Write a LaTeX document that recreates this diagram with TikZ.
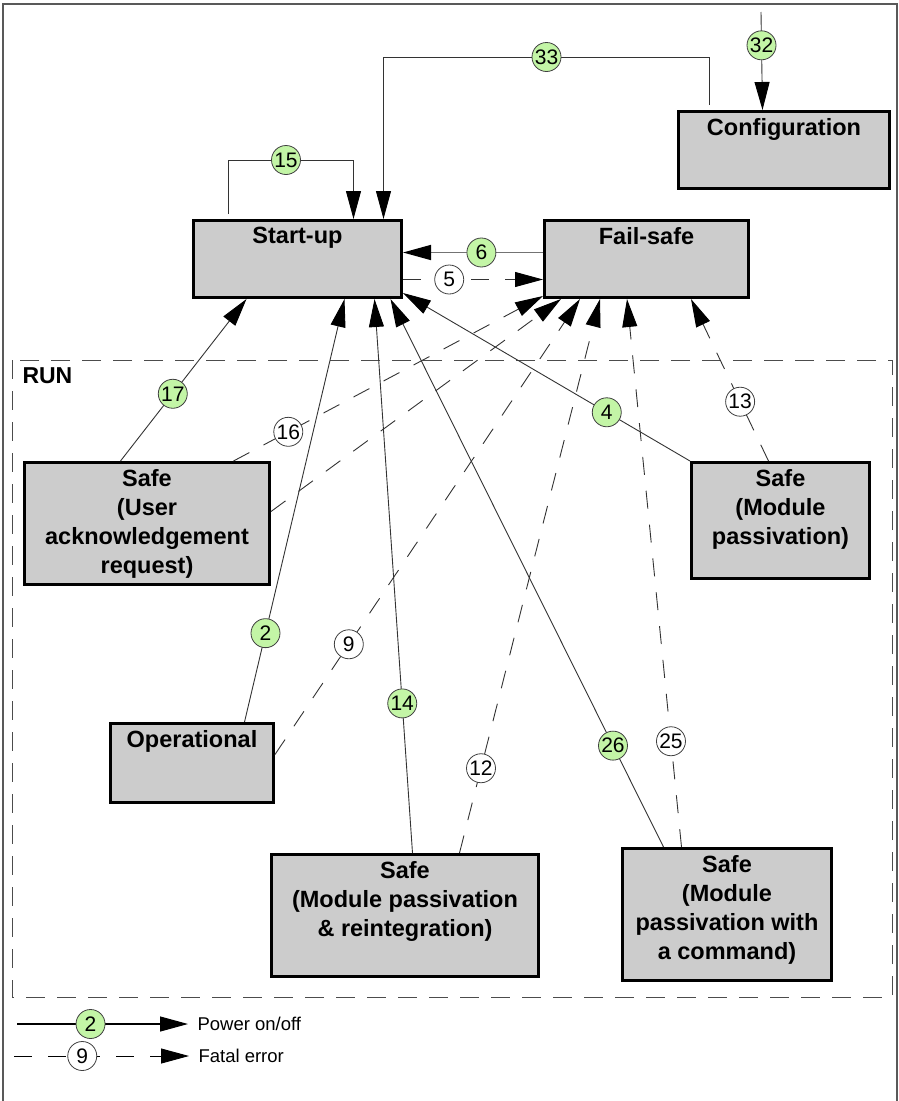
\documentclass[tikz,border=0pt]{standalone}
\usepackage{fontspec}
\setmainfont{Liberation Sans}
\usetikzlibrary{arrows.meta,positioning}
\definecolor{tagc}{HTML}{C3F5A6}
\definecolor{boxc}{HTML}{CCCCCC}
\definecolor{linec}{HTML}{333333}
\newcommand{\stxt}[3]{\parbox[t][#2][t]{#1}{\centering\vspace*{7pt}#3}}
\tikzset{
  st/.style={draw=black,line width=3pt,fill=boxc,inner sep=0pt,anchor=north west,font=\bfseries\fontsize{23.5}{29}\selectfont},
  pw/.style={-{Triangle[length=28pt,width=15pt,color=black]},linec,line width=0.9pt},
  fe/.style={pw,dash pattern=on 18pt off 16pt},
  tag/.style={circle,solid,draw=black!75,line width=0.8pt,fill=tagc,text=black,minimum size=29pt,inner sep=0pt,font=\fontsize{21}{21}\selectfont},
  nt/.style={tag,fill=white}
}

\begin{document}
\begin{tikzpicture}[x=1pt,y=-1pt]
\useasboundingbox (0,0) rectangle (898,1101);
% frame and RUN area
\draw[black!65,line width=1.5pt] (3,1101) -- (3,4) -- (897,4) -- (897,1101);
\draw[black!70,line width=1pt,dash pattern=on 19pt off 12pt] (12,360) rectangle (892,997);
\node[anchor=base west,font=\bfseries\fontsize{23}{23}\selectfont] (run) at (19,383) {RUN};

% states
\node[st] (conf) at (677,110) {\stxt{211pt}{77pt}{Configuration}};
\node[st] (start) at (192,219) {\stxt{208pt}{77pt}{Start-up}};
\node[st] (fail) at (543,219) {\stxt{204pt}{77pt}{Fail-safe}};
\node[st] (ack) at (23,461) {\stxt{245pt}{122pt}{Safe\\(User\\acknowledgement\\request)}};
\node[st] (pas) at (690,461) {\stxt{178pt}{116pt}{Safe\\(Module\\passivation)}};
\node[st] (opr) at (109,722) {\stxt{163pt}{79pt}{Operational}};
\node[st] (rei) at (270,853) {\stxt{267pt}{122pt}{Safe\\(Module passivation\\\& reintegration)}};
\node[st] (cmd) at (621,847) {\stxt{209pt}{132pt}{Safe\\(Module\\passivation with\\a command)}};

% power on/off
\coordinate (in32) at (761,12);
\draw[pw] (in32) -- node[tag,pos=0.34] (t32) {32} ([xshift=-21.5pt]conf.north);
\draw[pw] ([xshift=-74.5pt,yshift=5pt]conf.north) -- ++(0,-48) -| node[tag,pos=0.25] (t33) {33} ([xshift=86pt]start.north);
\draw[pw] ([xshift=-69pt,yshift=5pt]start.north) -- ++(0,-54) -| node[tag,pos=0.23] (t15) {15} ([xshift=56pt]start.north);
\draw[pw,black!55,line width=1.6pt] ([yshift=6.5pt]fail.west) -- node[tag,pos=0.44] (t6) {6} ([yshift=6.5pt]start.east);
\draw[pw] ([xshift=-26.5pt]ack.north) -- node[tag,pos=0.415] (t17) {17} ([xshift=-51pt]start.south);
\draw[pw] ([xshift=52.5pt]opr.north) -- node[tag,pos=0.21] (t2) {2} ([xshift=47pt]start.south);
\draw[pw] ([xshift=7.5pt]rei.north) -- node[tag,pos=0.27] (t14) {14} ([xshift=77pt]start.south);
\draw[pw] ([xshift=-63.5pt]cmd.north) -- node[tag,pos=0.185] (t26) {26} ([xshift=93pt]start.south);
\draw[pw] (pas.north west) -- node[tag,pos=0.29] (t4) {4} ([yshift=6pt]start.south east);

% fatal error
\draw[fe] ([yshift=-20.5pt]start.east) -- node[nt,pos=0.33] (t5) {5} ([yshift=-20.5pt]fail.west);
\draw[fe] ([xshift=86.5pt]ack.north) -- node[nt,pos=0.177] (t16) {16} ([yshift=3pt]fail.south west);
\draw[fe] ([yshift=12pt]ack.east) -- ([xshift=18pt]fail.south west);
\draw[fe] ([yshift=8.5pt]opr.east) -- node[nt,pos=0.242] (t9) {9} ([xshift=37pt]fail.south west);
\draw[fe] ([xshift=54.5pt]rei.north) -- node[nt,pos=0.153] (t12) {12} ([xshift=57pt]fail.south west);
\draw[fe] ([xshift=-45.5pt]cmd.north) -- node[nt,pos=0.193] (t25) {25} ([xshift=84pt]fail.south west);
\draw[fe] ([xshift=-12pt]pas.north) -- node[nt,pos=0.366] (t13) {13} ([xshift=148pt]fail.south west);

% legend
\coordinate (lp0) at (17,1024); \coordinate (lp1) at (188,1024);
\draw[pw,black,line width=1.2pt] (lp0) -- node[tag,pos=0.43] (lg2) {2} (lp1);
\node[anchor=west,font=\fontsize{18.5}{18.5}\selectfont] (lgp) at ([xshift=6pt]lp1) {Power on/off};
\coordinate (lf0) at (14,1056); \coordinate (lf1) at (189,1056);
\draw[fe,black] (lf0) -- node[nt,pos=0.39] (lg9) {9} (lf1);
\node[anchor=west,font=\fontsize{18.5}{18.5}\selectfont] (lgf) at ([xshift=6pt]lf1) {Fatal error};
\end{tikzpicture}
\end{document}
